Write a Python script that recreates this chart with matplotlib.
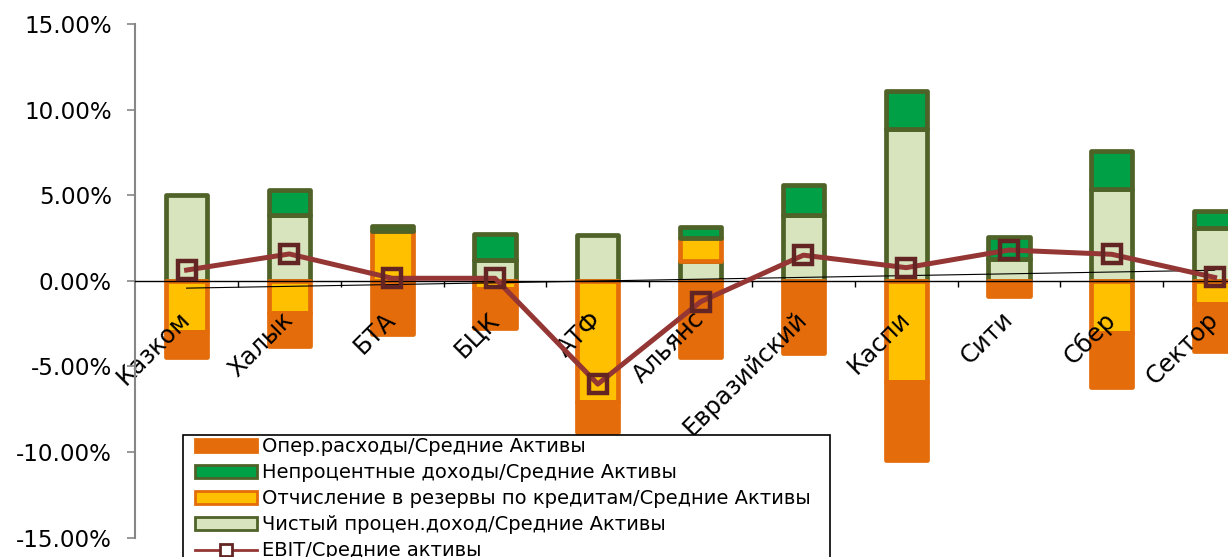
import numpy as np
import matplotlib
matplotlib.use("Agg")
import matplotlib.pyplot as plt
from matplotlib.patches import Patch, Rectangle
from matplotlib.lines import Line2D
from matplotlib.ticker import FuncFormatter, FixedLocator

categories = ['Казком', 'Халык', 'БТА', 'БЦК', 'АТФ', 'Альянс', 'Евразийский',
              'Каспи', 'Сити', 'Сбер', 'Сектор']
net_interest = [5.0, 3.84, 0.0, 1.2, 2.65, 1.17, 3.84, 8.85, 1.25, 5.35, 3.1]
provisions = [-3.0, -1.9, 2.9, -0.5, -7.06, 1.33, 0.0, -5.9, 0.0, -3.07, -1.36]
non_interest = [0.0, 1.46, 0.3, 1.54, 0.0, 0.64, 1.76, 2.21, 1.31, 2.26, 0.98]
opex = [-1.45, -1.89, -3.1, -2.26, -1.75, -4.47, -4.2, -4.57, -0.87, -3.12, -2.72]
ebit = [0.63, 1.57, 0.15, 0.15, -6.03, -1.22, 1.5, 0.77, 1.8, 1.55, 0.2]
yticks = [-15, -10, -5, 0, 5, 10, 15]

lab_opex = 'Опер.расходы/Средние Активы'
lab_nonint = 'Непроцентные доходы/Средние Активы'
lab_prov = 'Отчисление в резервы по кредитам/Средние Активы'
lab_nii = 'Чистый процен.доход/Средние Активы'
lab_ebit = 'EBIT/Средние активы'

ORANGE = '#E46C0A'
YELLOW = '#FFC000'
GREEN = '#00A046'
LIGHT = '#D7E4BD'
OLIVE = '#4F6228'
LINE = '#943634'
MARK = '#632523'

plt.rcParams['font.family'] = ['DejaVu Sans']

W, H = 1228, 557
fig = plt.figure(figsize=(W / 100, H / 100), dpi=100)
left_px, right_px, top_px, bot_px = 135.2, 1266.0, 24.0, 537.7
ax = fig.add_axes([left_px / W, 1 - bot_px / H, (right_px - left_px) / W, (bot_px - top_px) / H])

x = np.arange(len(categories))
series = [
    (net_interest, LIGHT, OLIVE),
    (provisions, YELLOW, ORANGE),
    (non_interest, GREEN, OLIVE),
    (opex, ORANGE, ORANGE),
]
pos_base = np.zeros(len(x))
neg_base = np.zeros(len(x))
for vals, fc, ec in series:
    v = np.array(vals, dtype=float)
    bottom = np.where(v >= 0, pos_base, neg_base)
    lw = np.where(v == 0, 0.0, 3.4)
    bars = ax.bar(x, v, width=0.40, bottom=bottom, color=fc, edgecolor=ec,
                  linewidth=lw, zorder=1)
    for p in bars.patches:
        p.set_joinstyle('round')
    pos_base = pos_base + np.where(v > 0, v, 0)
    neg_base = neg_base + np.where(v < 0, v, 0)

# linear trendline of EBIT
coef = np.polyfit(x, ebit, 1)
ax.plot(x, np.polyval(coef, x), color='black', lw=0.8, zorder=3)

ax.plot(x, ebit, color=LINE, lw=3.6, marker='s', markersize=13,
        markerfacecolor='none', markeredgecolor=MARK, markeredgewidth=3.2,
        zorder=4, solid_joinstyle='round')

ax.set_xlim(-0.5, len(x) - 0.5)
ax.set_ylim(-15, 15)

ax.spines['top'].set_visible(False)
ax.spines['right'].set_visible(False)
ax.spines['bottom'].set_position(('data', 0))
ax.spines['bottom'].set_color('black')
ax.spines['bottom'].set_linewidth(1.0)
ax.spines['bottom'].set_zorder(2.5)
ax.spines['left'].set_color('#868686')
ax.spines['left'].set_linewidth(1.5)

ax.set_yticks(yticks)
ax.yaxis.set_major_formatter(FuncFormatter(lambda v, p: f'{v:.2f}%'))
ax.tick_params(axis='y', direction='out', length=5.8, width=1.2, color='#868686',
               labelsize=16.6, pad=11)

ax.xaxis.set_major_locator(FixedLocator(np.arange(0.5, len(x) - 0.5, 1.0)))
ax.xaxis.set_major_formatter(FuncFormatter(lambda v, p: ''))
ax.tick_params(axis='x', which='major', direction='out', length=4.3, width=1.0, color='black')
ax.set_xticks(x, categories, minor=True)
ax.tick_params(axis='x', which='minor', length=0, pad=25, labelsize=17.5)
for t in ax.get_xticklabels(minor=True):
    t.set_rotation(45)
    t.set_ha('right')
    t.set_va('center')
    t.set_rotation_mode('anchor')

fig.text(0.487, 1 + 4.5 / H, 'Структура доходов', ha='center', va='baseline',
         fontsize=17, fontweight='bold')

# legend
handles = [
    Patch(facecolor=ORANGE, edgecolor=ORANGE, linewidth=2),
    Patch(facecolor=GREEN, edgecolor=OLIVE, linewidth=2),
    Patch(facecolor=YELLOW, edgecolor=ORANGE, linewidth=2),
    Patch(facecolor=LIGHT, edgecolor=OLIVE, linewidth=2),
    Line2D([], [], color=LINE, lw=2, marker='s', markersize=9,
           markerfacecolor='white', markeredgecolor=MARK, markeredgewidth=2),
]
labels = [lab_opex, lab_nonint, lab_prov, lab_nii, lab_ebit]
frame = Rectangle((183 / W, -0.2), (830 - 183) / W, (1 - 435 / H) + 0.2,
                  transform=fig.transFigure, facecolor='white', edgecolor='black',
                  linewidth=1.2, zorder=5)
fig.add_artist(frame)
leg = fig.legend(handles, labels, loc='upper left',
                 bbox_to_anchor=(195 / W, 1 - 437.5 / H), bbox_transform=fig.transFigure,
                 frameon=False, borderpad=0, borderaxespad=0, handlelength=3.2,
                 handleheight=0.67, handletextpad=0.26, labelspacing=0.36,
                 prop={'family': 'DejaVu Sans', 'size': 14})
leg.set_zorder(6)

fig.savefig('out.png', dpi=100)
